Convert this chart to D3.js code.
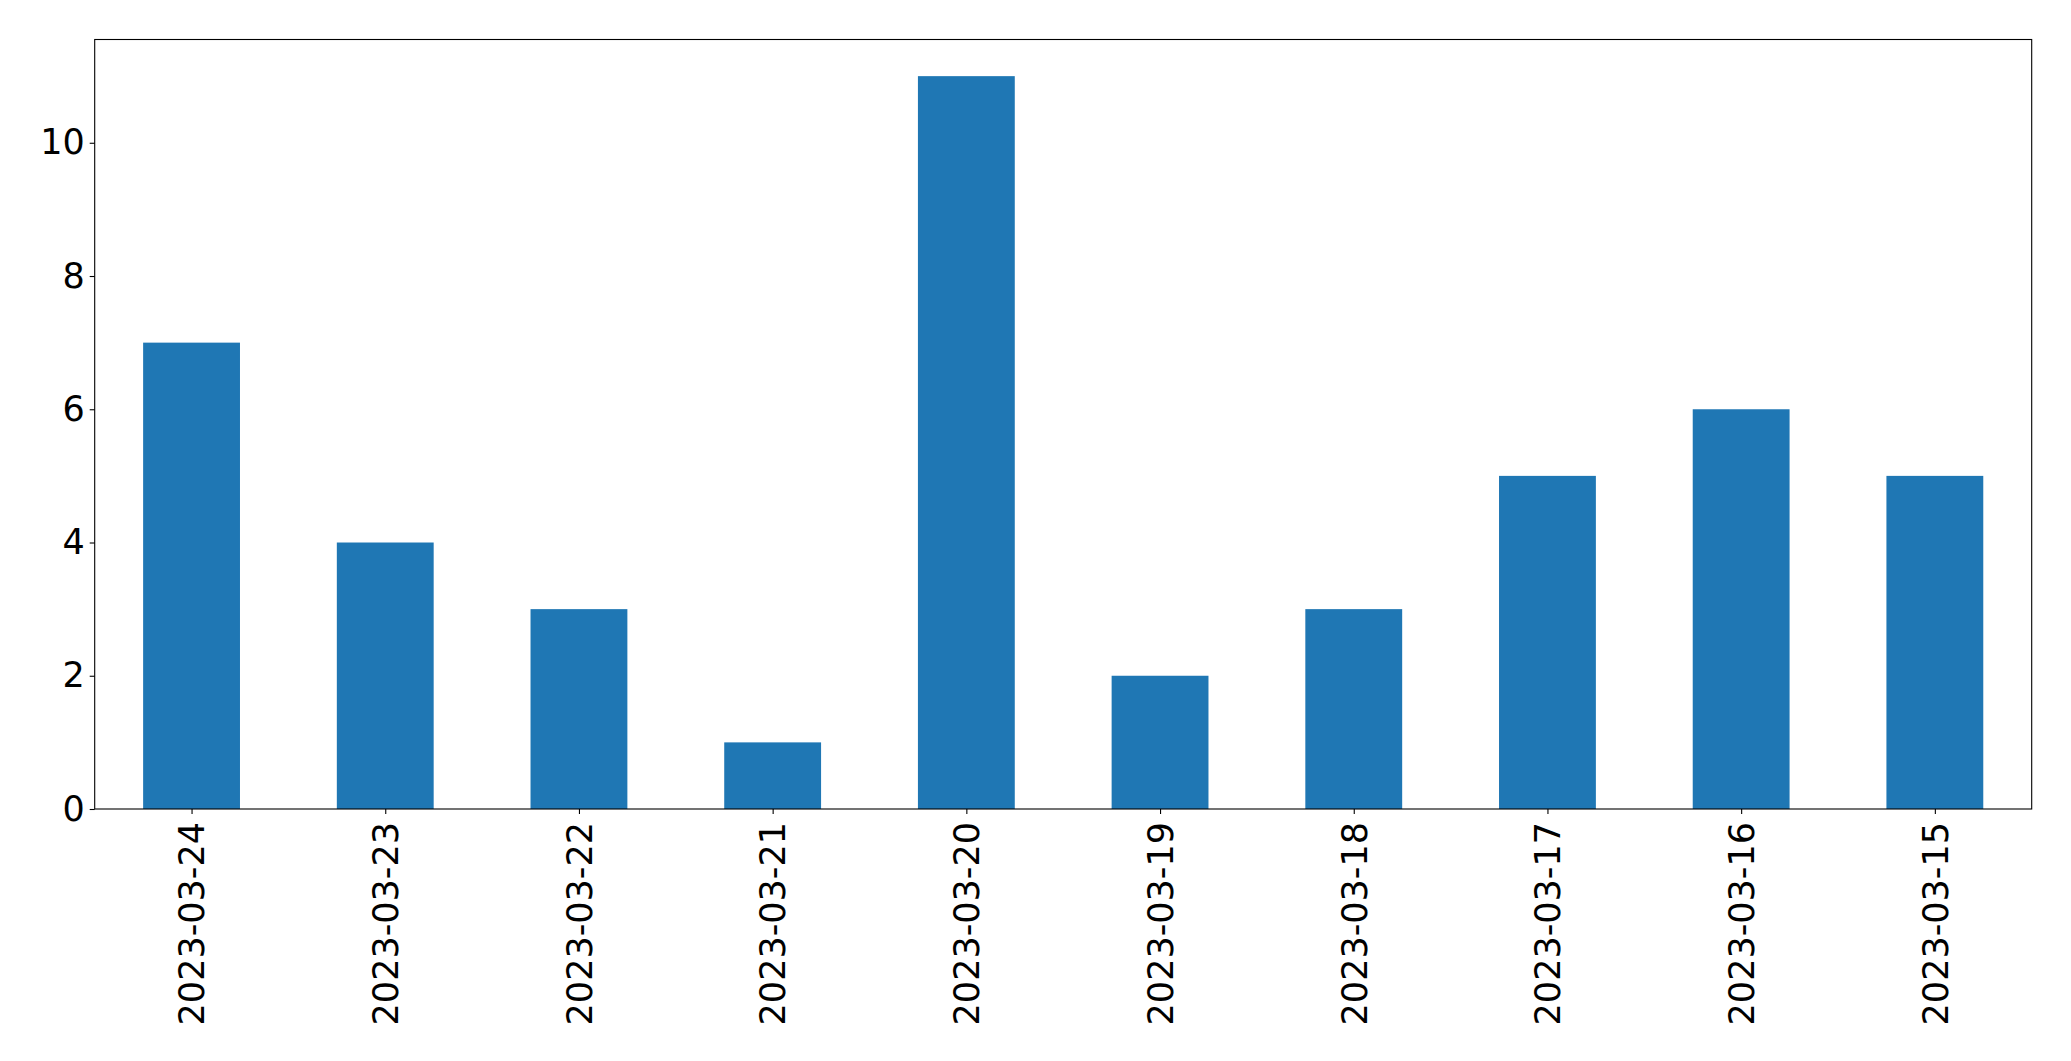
<!DOCTYPE html>
<html>
<head>
<meta charset="utf-8">
<script src="https://cdn.jsdelivr.net/npm/d3@7"></script>
<style>
  body { margin: 0; background: #fff; }
  svg { display: block; }
  text { font-family: "DejaVu Sans", sans-serif; fill: #000; }
</style>
</head>
<body>
<svg width="2071" height="1061"></svg>
<script>
// data
var dates = ["2023-03-24", "2023-03-23", "2023-03-22", "2023-03-21", "2023-03-20",
             "2023-03-19", "2023-03-18", "2023-03-17", "2023-03-16", "2023-03-15"];
var counts = [7, 4, 3, 1, 11, 2, 3, 5, 6, 5];
var yTicks = [0, 2, 4, 6, 8, 10];

var svg = d3.select("svg");
var margin = { left: 94.7, right: 2071 - 2031.7, top: 39.5, bottom: 1061 - 809 };
var width = 2071 - margin.left - margin.right,
    height = 1061 - margin.top - margin.bottom;

var g = svg.append("g").attr("transform", "translate(" + margin.left + "," + margin.top + ")");

// pandas-style bar layout: xlim -0.5..n-0.5, bar width 0.5
var x = d3.scaleLinear().domain([-0.5, dates.length - 0.5]).range([0, width]);
var y = d3.scaleLinear().domain([0, d3.max(counts) * 1.05]).range([height, 0]);

g.selectAll("rect.bar")
  .data(counts)
  .enter().append("rect")
  .attr("class", "bar")
  .attr("x", function (d, i) { return x(i - 0.25); })
  .attr("width", function (d, i) { return x(i + 0.25) - x(i - 0.25); })
  .attr("y", function (d) { return y(d); })
  .attr("height", function (d) { return y(0) - y(d); })
  .attr("fill", "#1f77b4");

// y axis
var yAxis = g.append("g")
  .call(d3.axisLeft(y).tickValues(yTicks).tickSize(5).tickPadding(5).tickFormat(d3.format("d")));
yAxis.select(".domain").remove();
yAxis.selectAll("text").style("font-size", "35px");
yAxis.selectAll("line").attr("stroke", "#000").attr("stroke-width", 1.1);

// x axis
var xAxis = g.append("g")
  .attr("transform", "translate(0," + height + ")")
  .call(d3.axisBottom(x).tickValues(d3.range(dates.length)).tickSize(5)
    .tickFormat(function (i) { return dates[i]; }));
xAxis.select(".domain").remove();
xAxis.selectAll("line").attr("stroke", "#000").attr("stroke-width", 1.1);
xAxis.selectAll("text")
  .style("font-size", "35px")
  .attr("text-anchor", "end")
  .attr("transform", "rotate(-90)")
  .attr("x", -13)
  .attr("y", 0)
  .attr("dy", "0.35em");

// frame
g.append("rect")
  .attr("width", width)
  .attr("height", height)
  .attr("fill", "none")
  .attr("stroke", "#000")
  .attr("stroke-width", 1.1);
</script>
</body>
</html>
